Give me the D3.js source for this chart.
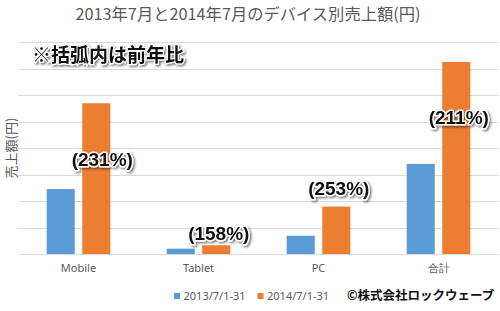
<!DOCTYPE html>
<html>
<head>
<meta charset="utf-8">
<script src="https://cdn.jsdelivr.net/npm/d3@7"></script>
<style>
  body { margin: 0; background: #fff; }
  svg { display: block; }
</style>
</head>
<body>
<svg id="chart" width="500" height="311"></svg>
<script>
// data (units = one gridline step)
const categories = ['Mobile', 'Tablet', 'PC', '合計'];
const seriesNames = ['2013/7/1-31', '2014/7/1-31'];
const sales2013 = [2.45, 0.2, 0.69, 3.4];
const sales2014 = [5.69, 0.33, 1.79, 7.25];
const ratioLabels = ['(231%)', '(158%)', '(253%)', '(211%)'];
const labelAnchor = [3.58, 0.79, 2.49, 5.17]; // where each ratio label sits, in value units
const colors = ['#5B9BD5', '#ED7D31'];

const svg = d3.select('#chart');
const margins = {left: 18.5, right: 1.5, top: 42, bottom: 57};
const width = 500, height = 311;

const defs = svg.append('defs');
const shadow = defs.append('filter').attr('id', 'shadow')
    .attr('x', '-20%').attr('y', '-30%').attr('width', '140%').attr('height', '160%');
shadow.append('feDropShadow')
    .attr('dx', 1.5).attr('dy', 1.5).attr('stdDeviation', 1.2)
    .attr('flood-color', '#000').attr('flood-opacity', 0.55);

const x0 = d3.scaleBand()
    .domain(categories)
    .range([margins.left, width - margins.right])
    .paddingInner(0.47)
    .paddingOuter(0.235);

const x1 = d3.scaleBand()
    .domain(seriesNames)
    .range([0, x0.bandwidth()])
    .paddingInner(0.21);

const y = d3.scaleLinear()
    .domain([0, 8])
    .range([height - margins.bottom, margins.top]);

// gridlines
svg.append('g')
    .selectAll('line')
    .data(y.ticks(8))
    .enter().append('line')
    .attr('x1', margins.left).attr('x2', width - margins.right)
    .attr('y1', d => Math.round(y(d)) + 0.5).attr('y2', d => Math.round(y(d)) + 0.5)
    .attr('stroke', '#D9D9D9').attr('stroke-width', 1);

// title
svg.append('text')
    .attr('x', 248).attr('y', 20)
    .attr('text-anchor', 'middle')
    .attr('font-family', '"Noto Sans CJK JP", sans-serif')
    .attr('font-size', 16.3)
    .attr('fill', '#595959')
    .text('2013年7月と2014年7月のデバイス別売上額(円)');

// note
svg.append('text')
    .attr('x', 32).attr('y', 62)
    .attr('font-family', '"Noto Sans CJK JP", sans-serif')
    .attr('font-weight', 'bold')
    .attr('font-size', 19)
    .attr('fill', '#111')
    .attr('stroke', '#fff').attr('stroke-width', 2.5).attr('paint-order', 'stroke')
    .attr('filter', 'url(#shadow)')
    .text('※括弧内は前年比');

// y axis title
svg.append('text')
    .attr('transform', `translate(15.5, ${(y(0) + y(8)) / 2}) rotate(-90)`)
    .attr('text-anchor', 'middle')
    .attr('font-family', '"Noto Sans CJK JP", sans-serif')
    .attr('font-size', 13)
    .attr('fill', '#595959')
    .text('売上額(円)');

// bars
const rows = categories.map((c, i) => ({category: c, values: [sales2013[i], sales2014[i]]}));

const groups = svg.append('g')
    .selectAll('g')
    .data(rows)
    .enter().append('g')
    .attr('transform', d => `translate(${x0(d.category)},0)`);

groups.selectAll('rect')
    .data(d => d.values.map((v, j) => ({series: seriesNames[j], value: v, idx: j})))
    .enter().append('rect')
    .attr('x', d => x1(d.series))
    .attr('width', x1.bandwidth())
    .attr('y', d => y(d.value))
    .attr('height', d => y(0) - y(d.value))
    .attr('fill', d => colors[d.idx]);

// category labels
const xAxis = svg.append('g')
    .attr('transform', `translate(0,${y(0)})`)
    .call(d3.axisBottom(x0).tickSize(0).tickPadding(10));
xAxis.select('.domain').remove();
xAxis.selectAll('text')
    .attr('font-family', '"Noto Sans", sans-serif')
    .attr('font-size', 11)
    .attr('fill', '#595959');

// ratio labels
svg.append('g')
    .selectAll('text')
    .data(categories)
    .enter().append('text')
    .attr('x', (d, i) => x0(d) + x1(seriesNames[1]) + x1.bandwidth() / 2 + (i === 0 ? 6 : 2.5))
    .attr('y', (d, i) => y(labelAnchor[i]))
    .attr('dy', '0.35em')
    .attr('text-anchor', 'middle')
    .attr('font-family', '"Liberation Sans", Arial, sans-serif')
    .attr('font-weight', 'bold')
    .attr('font-size', 19)
    .attr('fill', '#111')
    .attr('stroke', '#fff').attr('stroke-width', 3).attr('stroke-linejoin', 'round')
    .attr('paint-order', 'stroke')
    .attr('filter', 'url(#shadow)')
    .text((d, i) => ratioLabels[i]);

// legend
const legend = svg.append('g')
    .selectAll('g')
    .data(seriesNames)
    .enter().append('g')
    .attr('transform', (d, i) => `translate(${174 + i * 83.5}, 296)`);
legend.append('rect')
    .attr('x', 0).attr('y', -3)
    .attr('width', 6).attr('height', 6)
    .attr('fill', (d, i) => colors[i]);
legend.append('text')
    .attr('x', 9.5).attr('dy', '0.35em')
    .attr('font-family', '"Noto Sans", sans-serif')
    .attr('font-size', 11)
    .attr('fill', '#595959')
    .text(d => d);

// copyright
svg.append('text')
    .attr('x', 347).attr('y', 296).attr('dy', '0.35em')
    .attr('font-family', '"Noto Sans CJK JP", sans-serif')
    .attr('font-weight', 'bold')
    .attr('font-size', 12.5)
    .attr('fill', '#111')
    .text('©株式会社ロックウェーブ');
</script>
</body>
</html>
